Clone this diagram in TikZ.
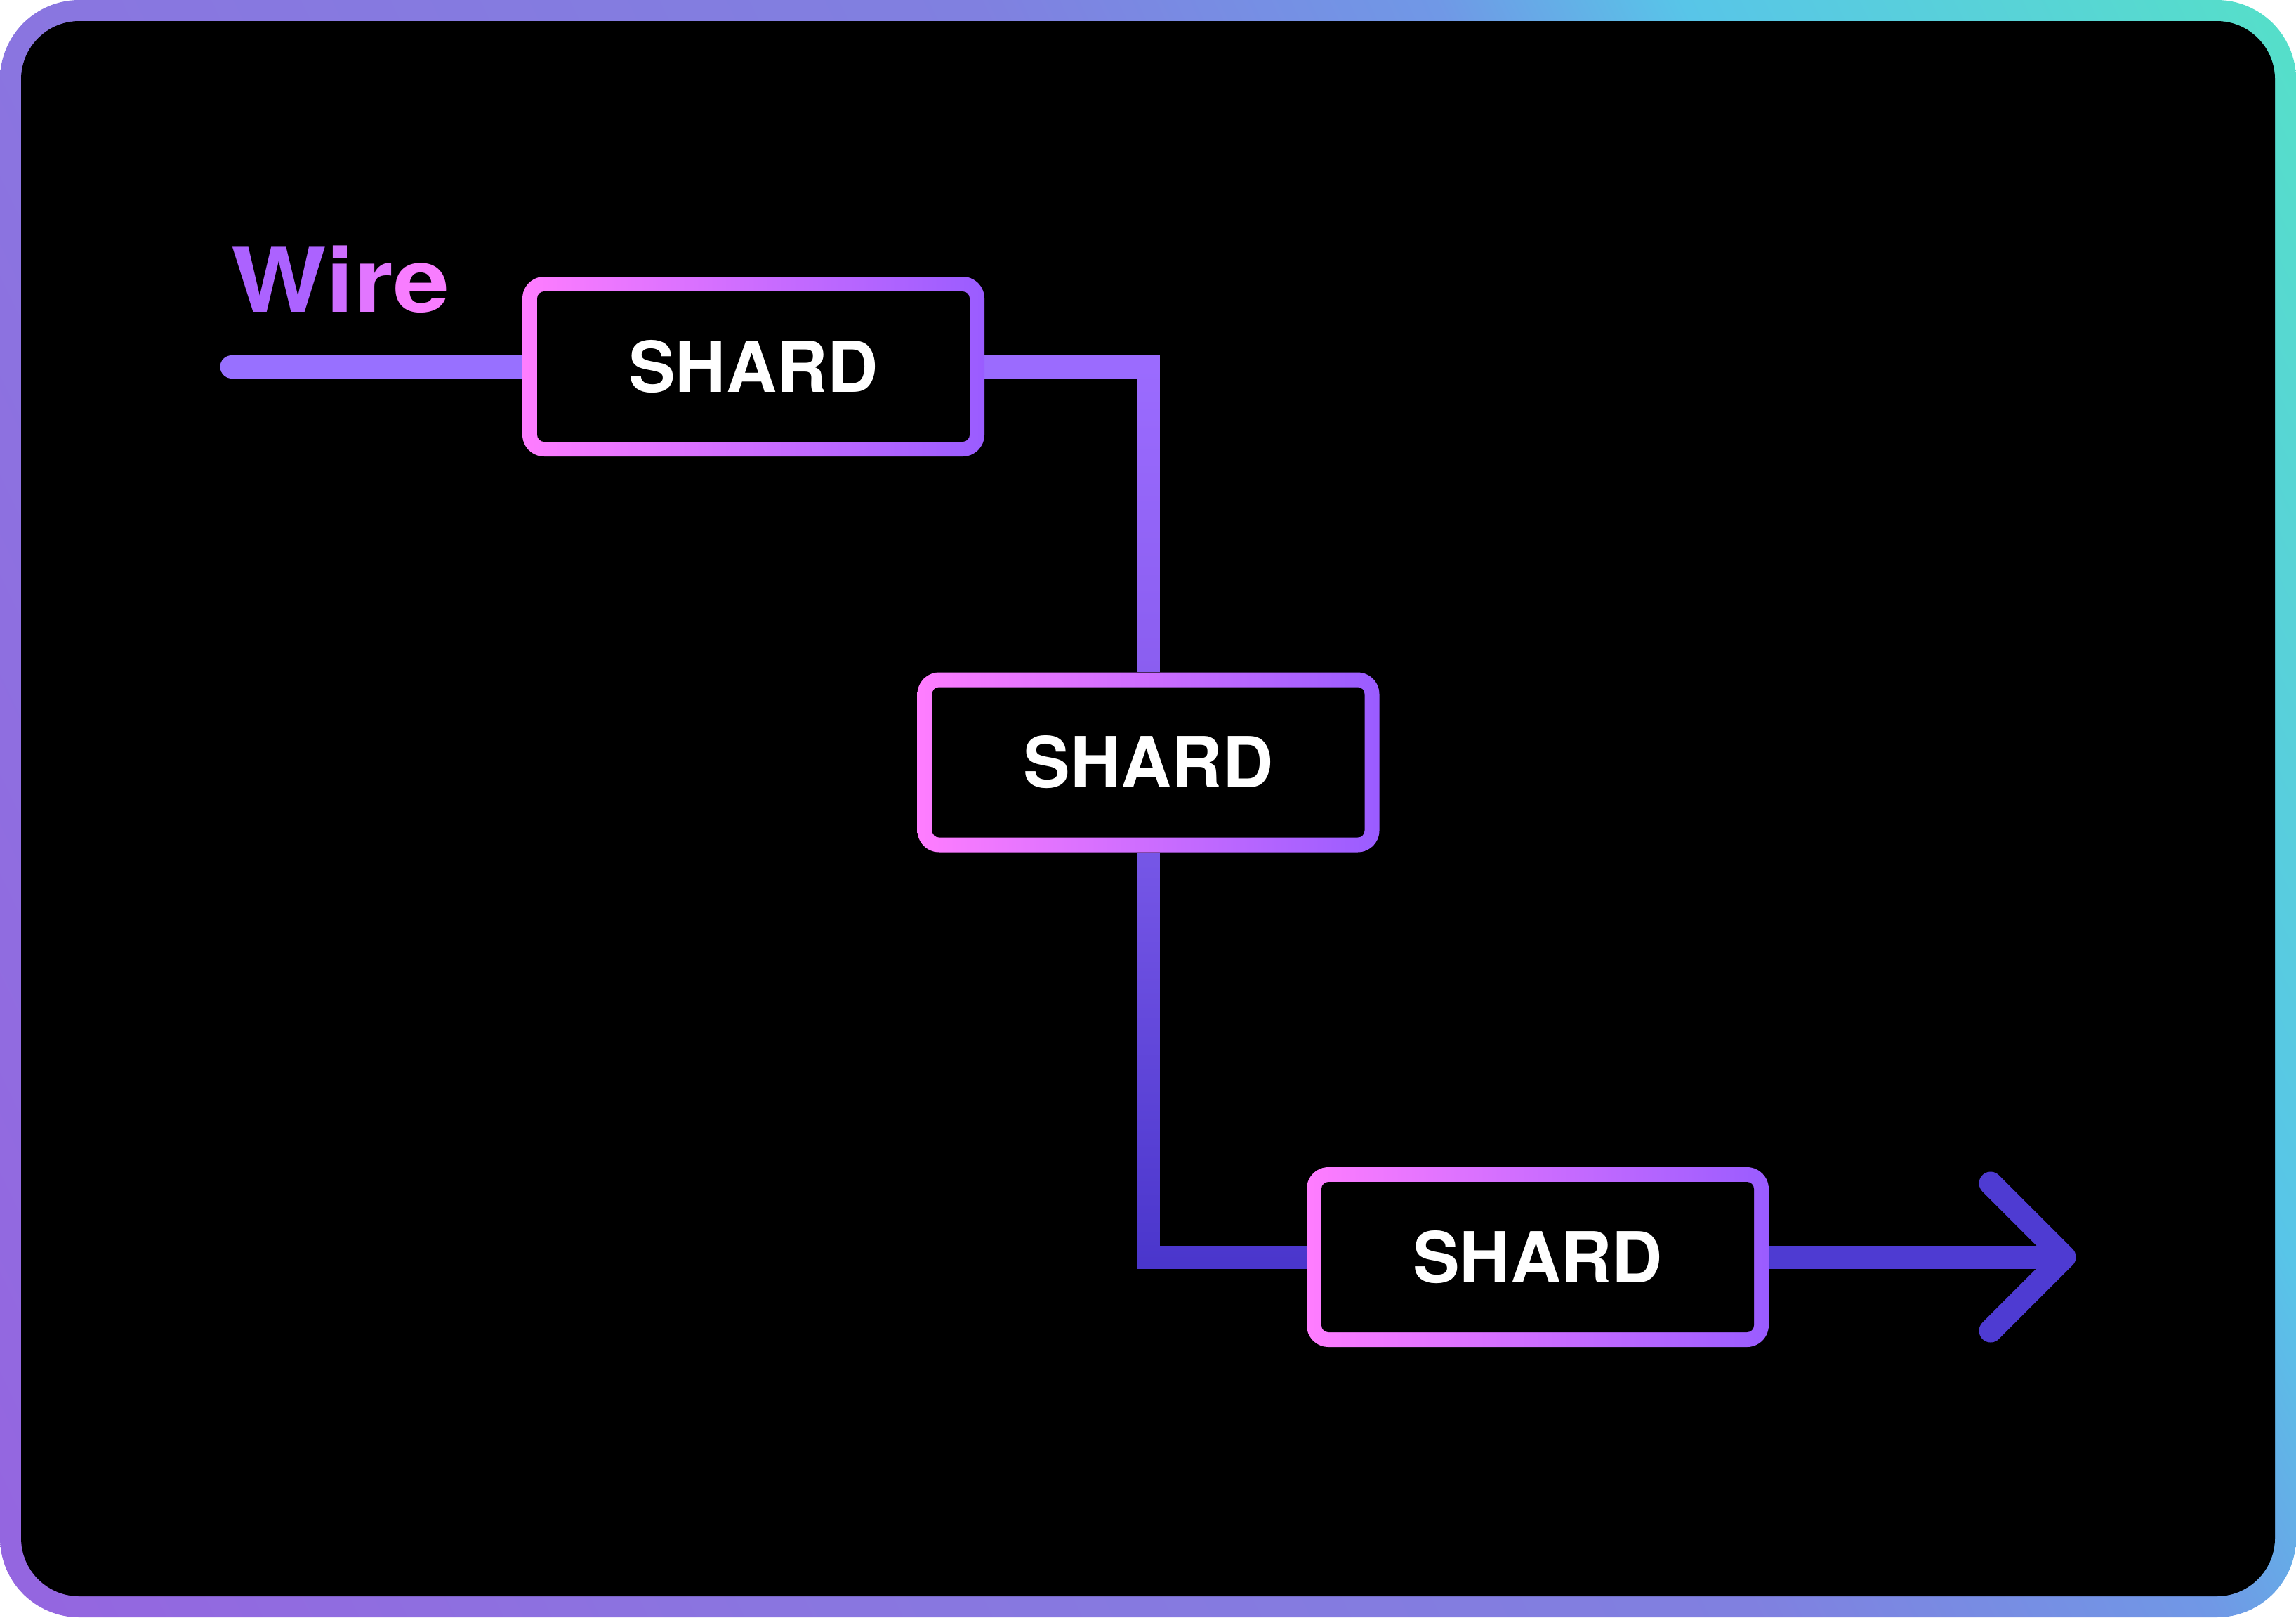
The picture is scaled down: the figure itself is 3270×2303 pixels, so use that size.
\documentclass[tikz,border=0pt]{standalone}
\usepackage{fontspec}
\setmainfont{TeX Gyre Heros}
\newfontfamily\wirefont[FakeStretch=1.13]{TeX Gyre Heros}
\usetikzlibrary{fadings}
\definecolor{fr0}{HTML}{9565E0}
\definecolor{fr1}{HTML}{8A75E0}
\definecolor{fr2}{HTML}{8080E0}
\definecolor{fr3}{HTML}{7098E6}
\definecolor{fr4}{HTML}{58C5E8}
\definecolor{fr5}{HTML}{58D2D8}
\definecolor{fr6}{HTML}{55E0C8}
\definecolor{boxL}{HTML}{FF7DFF}
\definecolor{boxR}{HTML}{9A5CFF}
\definecolor{wireA}{HTML}{9870FF}
\definecolor{wireB}{HTML}{9C6CFF}
\definecolor{wireBb}{HTML}{8A5EF0}
\definecolor{wireC}{HTML}{7858E8}
\definecolor{wireCb}{HTML}{4A36CC}
\definecolor{wireD}{HTML}{4E3BD2}
\definecolor{lblW}{HTML}{AC62FF}
\definecolor{lblI}{HTML}{CE6EFF}
\definecolor{lblR}{HTML}{E276FF}
\definecolor{lblE}{HTML}{F87DFF}
\pgfdeclarehorizontalshading{framesh}{100bp}{color(0bp)=(fr0); color(25bp)=(fr0); color(37.5bp)=(fr1); color(53.5bp)=(fr2); color(61bp)=(fr3); color(65bp)=(fr4); color(70bp)=(fr5); color(75bp)=(fr6); color(100bp)=(fr6)}
\tikzfading[name=fadetopdown, top color=transparent!0, bottom color=transparent!100]
\pgfdeclarelayer{frame}
\pgfdeclarelayer{wires}
\pgfsetlayers{frame,wires,main}
\begin{document}
\begin{tikzpicture}[x=1pt,y=-1pt,
  shardbox/.style={minimum width=658pt, minimum height=256pt, inner sep=0pt,
    rounded corners=31pt, left color=boxL, right color=boxR,
    path picture={\fill[black, rounded corners=10pt]
      ([shift={(21pt,21pt)}]path picture bounding box.south west) rectangle
      ([shift={(-21pt,-21pt)}]path picture bounding box.north east);},
    text=white, font=\fontsize{100}{100}\selectfont\bfseries},
  wire/.style={line width=33pt},
]
\useasboundingbox (0,0) rectangle (3270,2303);
% frame
\begin{pgfonlayer}{frame}
\begin{scope}
\clip[rounded corners=113pt] (0,0) rectangle (3270,2303);
\begin{scope}[transform canvas={shift={(1635,1151.5)}, rotate=25.8}]
\shade[shading=framesh] (-1975,-1760) rectangle (1975,1760);
\end{scope}
\fill[black, rounded corners=83pt] (30,30) rectangle (3240,2273);
\end{scope}
\end{pgfonlayer}
% nodes
\node[shardbox] (b1) at (1073,522) {SHARD};
\node[shardbox] (b2) at (1635.5,1085.5) {SHARD};
\node[shardbox] (b3) at (2190,1790) {SHARD};
\node[font=\wirefont\fontsize{127}{127}\selectfont\bfseries, anchor=base west, inner sep=0pt] (wirelabel) at (329,444)
  {\textcolor{lblW}{W}\textcolor{lblI}{i}\textcolor{lblR}{r}\textcolor{lblE}{e}};
\coordinate (wstart) at (330,522);
\coordinate (tip) at (2940,1790);
\coordinate (armT) at (2835,1685);
\coordinate (armB) at (2835,1895);
% wires
\begin{pgfonlayer}{wires}
\draw[wire, wireA, line cap=round] (wstart) -- (b1.west);
\draw[wire, wireBb] (b1.east) -| (b2.north);
\draw[wire, wireB, path fading=fadetopdown] (b1.east) -| (b2.north);
\draw[wire, wireCb] (b2.south) |- (b3.west);
\draw[wire, wireC, path fading=fadetopdown] (b2.south) |- (b3.west);
\draw[wire, wireD] (b3.east) -- (tip);
\draw[wire, wireD, line cap=round, line join=round] (armT) -- (tip) -- (armB);
\end{pgfonlayer}
\end{tikzpicture}
\end{document}
